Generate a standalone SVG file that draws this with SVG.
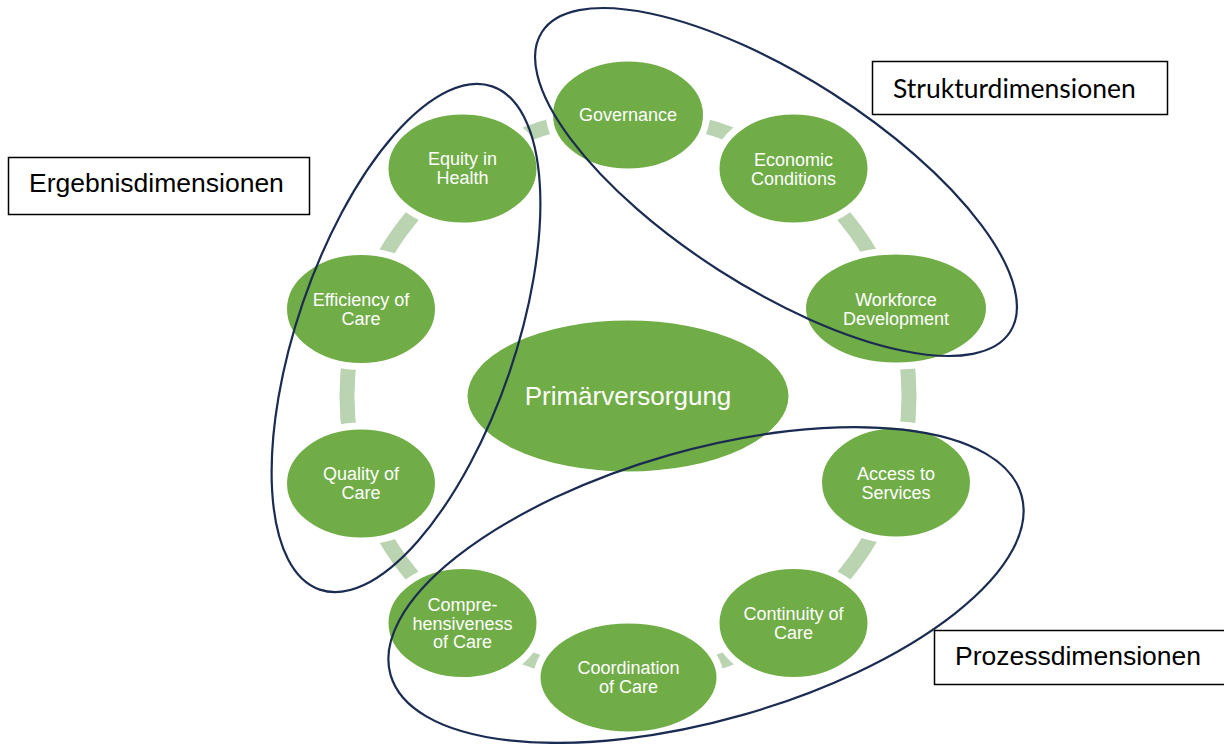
<svg xmlns="http://www.w3.org/2000/svg" width="1224" height="744" viewBox="0 0 1224 744">
  <style>
    .link { fill: none; stroke: #BAD3B1; stroke-width: 15; }
    .node ellipse { fill: #70AD47; stroke: #FFFFFF; stroke-width: 7; }
    .node text { font-family: "Liberation Sans", Arial, sans-serif; font-size: 18px; fill: #FFFFFF; text-anchor: middle; }
    .group-outline { fill: none; stroke: #1B2C52; stroke-width: 2.2; }
    .label rect { fill: #FFFFFF; stroke: #000000; stroke-width: 1.5; }
    .label text { font-family: "Liberation Sans", Arial, sans-serif; font-size: 26.5px; fill: #000000; }
  </style>

  <!-- ring of connectors between the ten dimensions (circle r=281 around the centre) -->
  <g id="connectors">
    <path class="link" d="M628,115 A281,281 0 0 1 793.2,168.7"/>
    <path class="link" d="M793.2,168.7 A281,281 0 0 1 895.3,309.2"/>
    <path class="link" d="M895.3,309.2 A281,281 0 0 1 895.3,482.8"/>
    <path class="link" d="M895.3,482.8 A281,281 0 0 1 793.2,623.3"/>
    <path class="link" d="M793.2,623.3 A281,281 0 0 1 628,677"/>
    <path class="link" d="M628,677 A281,281 0 0 1 462.8,623.3"/>
    <path class="link" d="M462.8,623.3 A281,281 0 0 1 360.7,482.8"/>
    <path class="link" d="M360.7,482.8 A281,281 0 0 1 360.7,309.2"/>
    <path class="link" d="M360.7,309.2 A281,281 0 0 1 462.8,168.7"/>
    <path class="link" d="M462.8,168.7 A281,281 0 0 1 628,115"/>
  </g>

  <g id="center" class="node">
    <ellipse cx="628" cy="396" rx="164" ry="79" stroke="none"/>
    <text x="628" y="405" style="font-size:26px">Primärversorgung</text>
  </g>

  <!-- node radii include the white rim that separates them from the ring -->
  <g id="governance" class="node">
    <ellipse cx="628" cy="115" rx="78.5" ry="57"/>
    <text x="628" y="121">Governance</text>
  </g>
  <g id="economic-conditions" class="node">
    <ellipse cx="793.5" cy="168.5" rx="77.5" ry="57.5"/>
    <text x="793.5" y="165.5">Economic</text>
    <text x="793.5" y="184.5">Conditions</text>
  </g>
  <g id="workforce-development" class="node">
    <ellipse cx="896" cy="308.5" rx="93.5" ry="57.5"/>
    <text x="896" y="305.5">Workforce</text>
    <text x="896" y="324.5">Development</text>
  </g>
  <g id="access-to-services" class="node">
    <ellipse cx="896" cy="482.5" rx="77.5" ry="57.5"/>
    <text x="896" y="479.5">Access to</text>
    <text x="896" y="498.5">Services</text>
  </g>
  <g id="continuity-of-care" class="node">
    <ellipse cx="793.5" cy="623" rx="77.5" ry="57.5"/>
    <text x="793.5" y="620">Continuity of</text>
    <text x="793.5" y="639">Care</text>
  </g>
  <g id="coordination-of-care" class="node">
    <ellipse cx="628.5" cy="677.5" rx="91.5" ry="57.5"/>
    <text x="628.5" y="674">Coordination</text>
    <text x="628.5" y="693">of Care</text>
  </g>
  <g id="comprehensiveness-of-care" class="node">
    <ellipse cx="462.5" cy="623" rx="77.5" ry="57.5"/>
    <text x="462.5" y="611">Compre-</text>
    <text x="462.5" y="629.5">hensiveness</text>
    <text x="462.5" y="648">of Care</text>
  </g>
  <g id="quality-of-care" class="node">
    <ellipse cx="361" cy="483.5" rx="77.5" ry="57.5"/>
    <text x="361" y="480">Quality of</text>
    <text x="361" y="499">Care</text>
  </g>
  <g id="efficiency-of-care" class="node">
    <ellipse cx="361" cy="309" rx="77.5" ry="57.5"/>
    <text x="361" y="306">Efficiency of</text>
    <text x="361" y="325">Care</text>
  </g>
  <g id="equity-in-health" class="node">
    <ellipse cx="462.5" cy="168.5" rx="77.5" ry="57.5"/>
    <text x="462.5" y="165">Equity in</text>
    <text x="462.5" y="184">Health</text>
  </g>

  <!-- grouping outlines -->
  <g id="group-outlines">
    <ellipse class="group-outline" cx="406" cy="338" rx="109" ry="266" transform="rotate(18.9 406 338)"/>
    <ellipse class="group-outline" cx="776" cy="182" rx="278" ry="105" transform="rotate(32.6 776 182)"/>
    <ellipse class="group-outline" cx="706" cy="585" rx="328" ry="135" transform="rotate(-15.9 706 585)"/>
  </g>

  <g id="label-ergebnis" class="label">
    <rect x="8.5" y="157.5" width="301" height="57"/>
    <text x="29" y="192">Ergebnisdimensionen</text>
  </g>
  <g id="label-struktur" class="label">
    <rect x="872.5" y="61.5" width="295" height="53"/>
    <text x="893" y="98" style="font-family:Lato, 'Open Sans', sans-serif;font-size:26.5px">Strukturdimensionen</text>
  </g>
  <g id="label-prozess" class="label">
    <rect x="934.5" y="630.5" width="300" height="54"/>
    <text x="955" y="665">Prozessdimensionen</text>
  </g>
</svg>
